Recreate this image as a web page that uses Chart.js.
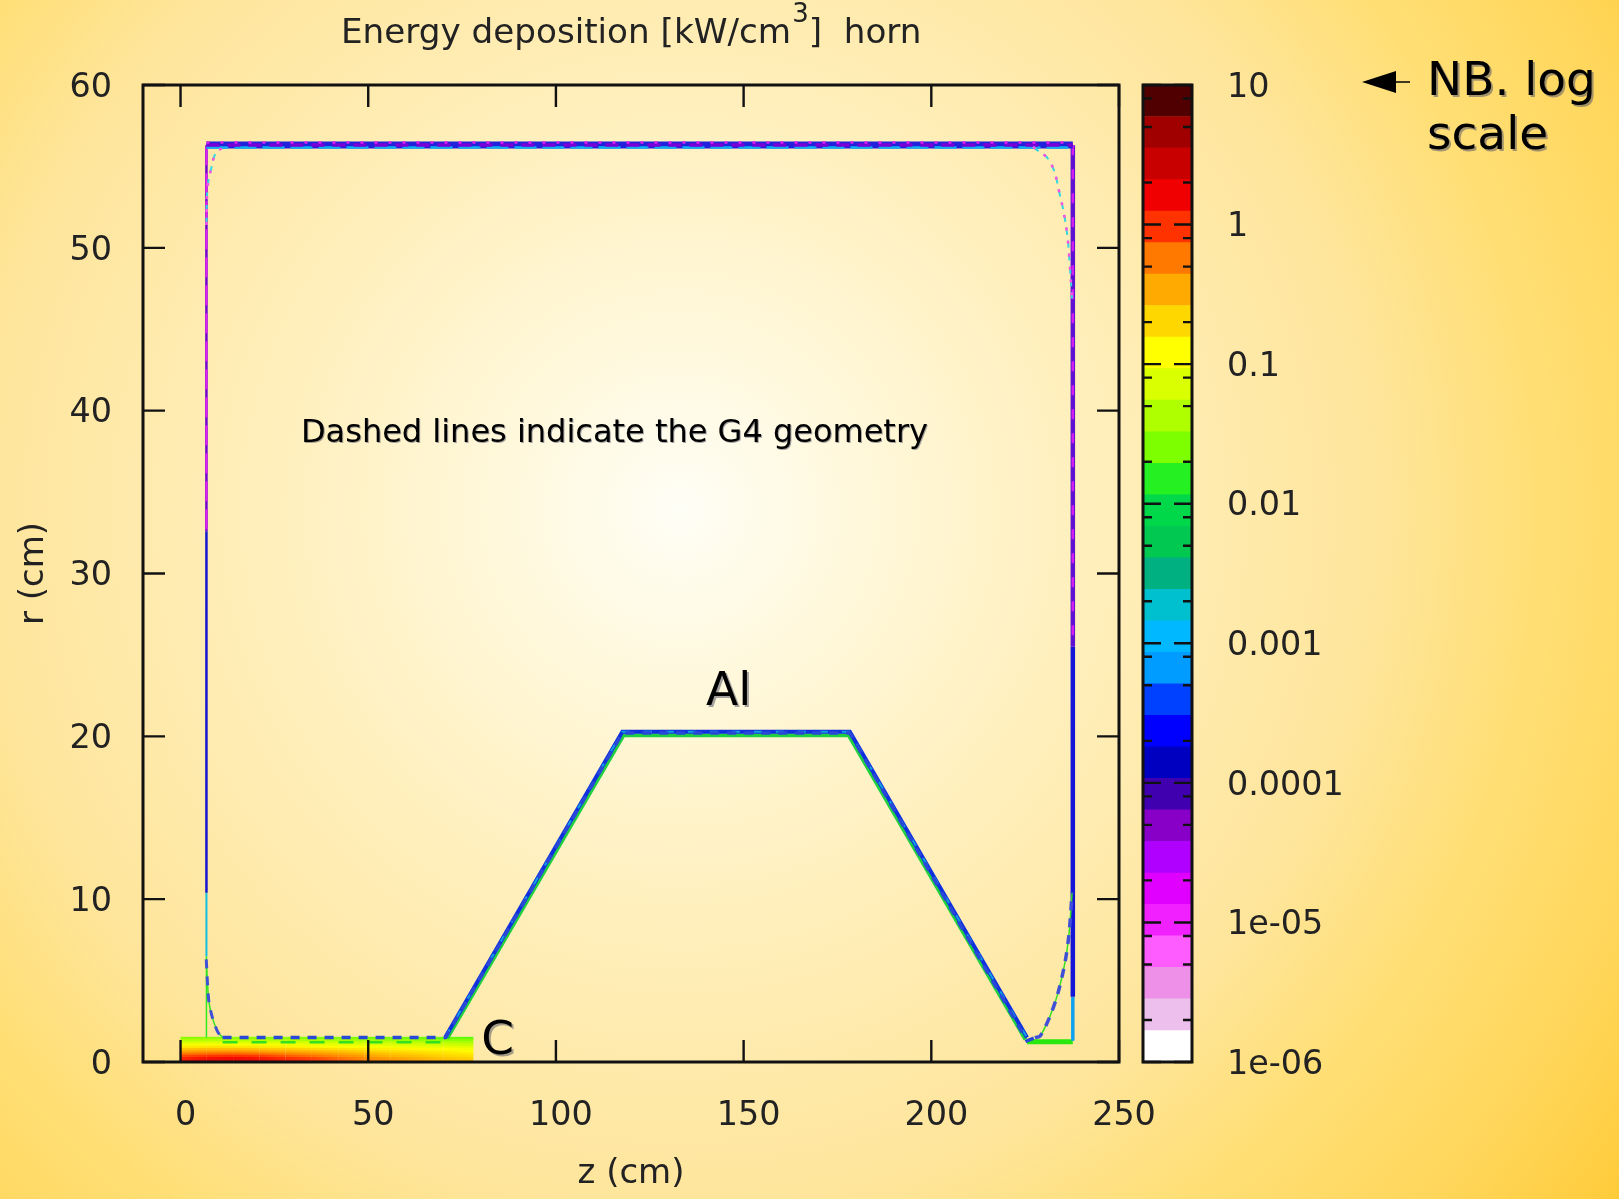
<!DOCTYPE html>
<html>
<head>
<meta charset="utf-8">
<title>Energy deposition horn</title>
<script src="https://cdn.jsdelivr.net/npm/chart.js@4"></script>
<style>
  html, body { margin: 0; padding: 0; width: 1619px; height: 1199px; overflow: hidden; }
  body { background: radial-gradient(circle farthest-corner at 680px 510px, #fffef6 0%, #fff8dc 15%, #fff0bf 33%, #fee59b 60%, #ffdf76 73%, #ffd65a 88%, #ffcb3a 100%); }
  canvas { position: absolute; left: 0; top: 0; filter: blur(0.5px); }
</style>
</head>
<body>
<canvas id="map" width="1619" height="1199"></canvas>
<canvas id="bar" width="1619" height="1199"></canvas>
<script>
// Axis ticks
const zTicks = [0, 50, 100, 150, 200, 250];
const rTicks = [0, 10, 20, 30, 40, 50, 60];
const barMajorTicks = [10, 1, 0.1, 0.01, 0.001, 0.0001, 0.00001, 0.000001];
const barMajorLabels = ['10', '1', '0.1', '0.01', '0.001', '0.0001', '1e-05', '1e-06'];
const barMinorTicks = [8, 5, 2, 0.8, 0.5, 0.2, 0.08, 0.05, 0.02, 0.008, 0.005, 0.002, 0.0008, 0.0005, 0.0002,
  0.00008, 0.00005, 0.00002, 0.000008, 0.000005, 0.000002];

// Colour bar, bottom band first
const bandEdges = [1e-6, 1.68e-6, 2.83e-6, 4.76e-6, 8e-6, 1.346e-5, 2.26e-5, 3.81e-5, 6.4e-5, 1.077e-4, 1.81e-4,
  3.05e-4, 5.12e-4, 8.62e-4, 1.45e-3, 2.44e-3, 4.1e-3, 6.9e-3, 1.16e-2, 1.95e-2, 3.28e-2, 5.52e-2, 9.28e-2,
  0.156, 0.263, 0.442, 0.743, 1.25, 2.1, 3.54, 5.95, 10];
const bandColors = ['#ffffff', '#ecbfec', '#ee90e8', '#ff5cff', '#f020ff', '#e000ff', '#b000ff', '#8800c8', '#4000b0',
  '#0000c0', '#0000ff', '#0040ff', '#009cff', '#00b8ff', '#00c0d0', '#00b080', '#00c850', '#00d84a', '#25f021',
  '#7dff00', '#afff00', '#d9ff00', '#ffff00', '#ffd700', '#ffaa00', '#ff7800', '#ff3200', '#f00000', '#c80000',
  '#a00000', '#500000'];

// Carbon target: energy deposition per r row and z column
const targetZ = [0, 7, 14, 21, 28, 35, 42, 49, 56, 63, 70, 78];
const targetR = [0.08, 0.22, 0.36, 0.5, 0.64, 0.78, 0.92, 1.06, 1.2, 1.34, 1.46];
const targetRow0 = [1.3, 1.7, 1.8, 1.6, 1.25, 1.0, 0.75, 0.55, 0.47, 0.36, 0.3, 0.24];
const targetRow1 = [1.1, 1.4, 1.5, 1.3, 1.0, 0.85, 0.62, 0.47, 0.38, 0.32, 0.25, 0.21];
const targetRow2 = [0.8, 0.95, 1.0, 0.9, 0.72, 0.6, 0.47, 0.38, 0.3, 0.26, 0.21, 0.18];
const targetRow3 = [0.55, 0.62, 0.66, 0.6, 0.5, 0.43, 0.35, 0.29, 0.25, 0.21, 0.18, 0.15];
const targetRow4 = [0.36, 0.41, 0.42, 0.38, 0.34, 0.3, 0.26, 0.22, 0.19, 0.17, 0.15, 0.125];
const targetRow5 = [0.24, 0.27, 0.27, 0.25, 0.23, 0.2, 0.18, 0.16, 0.145, 0.13, 0.115, 0.1];
const targetRow6 = [0.15, 0.17, 0.17, 0.16, 0.15, 0.135, 0.125, 0.115, 0.105, 0.095, 0.088, 0.078];
const targetRow7 = [0.1, 0.11, 0.11, 0.105, 0.1, 0.092, 0.086, 0.08, 0.074, 0.068, 0.062, 0.056];
const targetRow8 = [0.065, 0.07, 0.072, 0.068, 0.065, 0.06, 0.058, 0.054, 0.05, 0.047, 0.044, 0.04];
const targetRow9 = [0.042, 0.045, 0.046, 0.044, 0.042, 0.04, 0.038, 0.036, 0.034, 0.032, 0.03, 0.028];
const targetRow10 = [0.028, 0.03, 0.03, 0.029, 0.028, 0.027, 0.026, 0.025, 0.024, 0.023, 0.022, 0.021];
const targetRows = [targetRow0, targetRow1, targetRow2, targetRow3, targetRow4, targetRow5, targetRow6, targetRow7,
  targetRow8, targetRow9, targetRow10];

// Horn outline as scored
const topWallZ = [6.9, 237.7];
const topWallUpperR = [56.47, 56.47];
const topWallMiddleR = [56.32, 56.32];
const topWallLowerR = [56.16, 56.16];
const leftWallZ = [6.9, 6.9];
const leftPurpleR = [56.3, 32.6];
const leftBlueR = [32.6, 10.4];
const leftCyanR = [10.4, 6.5];
const leftGreenR = [6.5, 1.5];
const rightWallZ = [237.7, 237.7];
const rightPurpleR = [56.3, 25.5];
const rightBlueR = [25.5, 4.0];
const rightCyanR = [4.0, 1.3];
const floorZ = [225.5, 237.7];
const floorR = [1.25, 1.25];
const coneBlueZ = [70.6, 117.7, 178.3, 225.5];
const coneBlueR = [1.55, 20.28, 20.28, 1.5];
const coneGreenZ = [71.0, 118.0, 178.0, 225.1];
const coneGreenR = [1.45, 20.06, 20.06, 1.38];

// G4 geometry, dashed
const g4LeftZ = [6.85, 7.5, 8.4, 9.9, 11.2];
const g4LeftR = [6.3, 3.8, 2.8, 1.85, 1.5];
const g4ConeZ = [11.2, 70.6, 117.7, 178.3, 225.5, 227.6];
const g4ConeR = [1.5, 1.5, 20.2, 20.2, 1.3, 1.5];
const g4RightZ = [227.6, 229, 231.6, 233.7, 235.6, 236.7, 237.5];
const g4RightR = [1.5, 1.6, 2.8, 4.2, 6.1, 7.9, 10.4];
const g4InnerZ = [11.2, 70.6];
const g4InnerR = [1.22, 1.22];
const g4TopLeftZ = [6.9, 7.2, 8.2, 9.5, 11];
const g4TopLeftR = [51.4, 53.7, 54.9, 55.9, 56.1];
const g4TopRightZ = [227.1, 231.6, 234.3, 236.1, 236.9, 237.5];
const g4TopRightR = [56.2, 55.3, 53.2, 51.0, 48.9, 46.9];

const LABEL_FONT = "'DejaVu Sans', sans-serif";
const INK = '#111111';
const TEXT = '#222222';

function toPoints(zs, rs) {
  return zs.map((z, i) => ({ x: z, y: rs[i] }));
}

function outline(zs, rs, color, width, dash, tension) {
  return {
    type: 'line', data: toPoints(zs, rs), borderColor: color, borderWidth: width,
    borderDash: dash || [], pointRadius: 0, tension: tension || 0, fill: false, borderCapStyle: 'butt',
  };
}

function hexToRgb(hex) {
  return [1, 3, 5].map(i => parseInt(hex.slice(i, i + 2), 16));
}

// Energy value to colour, blended between neighbouring bands since the target looks smooth
function bandColor(value) {
  const pos = (Math.log10(value) + 6) / 7 * bandColors.length - 0.5;
  const i = Math.max(0, Math.min(bandColors.length - 2, Math.floor(pos)));
  const t = Math.max(0, Math.min(1, pos - i));
  const a = hexToRgb(bandColors[i]), b = hexToRgb(bandColors[i + 1]);
  return `rgb(${a.map((c, k) => Math.round(c + (b[k] - c) * t)).join(',')})`;
}

function targetRowDataset(row, r) {
  return {
    type: 'line', data: targetZ.map(z => ({ x: z, y: r })), borderWidth: 2.8, pointRadius: 0,
    tension: 0, fill: false, borderCapStyle: 'butt', borderColor: bandColor(row[0]),
    segment: {
      borderColor: ctx => {
        const g = ctx.chart.ctx.createLinearGradient(ctx.p0.x, 0, ctx.p1.x, 0);
        g.addColorStop(0, bandColor(row[ctx.p0DataIndex]));
        g.addColorStop(1, bandColor(row[ctx.p1DataIndex]));
        return g;
      },
    },
  };
}

// Inward ticks and the closed frame, as gnuplot draws them
function framePlugin(id, xTickValues, yTickValues, yLengthFor, xLength) {
  return {
    id,
    afterDatasetsDraw(chart) {
      const { ctx, chartArea: a, scales } = chart;
      ctx.save();
      ctx.strokeStyle = INK;
      ctx.lineWidth = 2.4;
      ctx.beginPath();
      xTickValues.forEach(v => {
        const px = scales.x.getPixelForValue(v);
        ctx.moveTo(px, a.top); ctx.lineTo(px, a.top + xLength);
        ctx.moveTo(px, a.bottom); ctx.lineTo(px, a.bottom - xLength);
      });
      yTickValues.forEach(v => {
        const py = scales.y.getPixelForValue(v);
        const len = yLengthFor(v);
        ctx.moveTo(a.left, py); ctx.lineTo(a.left + len, py);
        ctx.moveTo(a.right, py); ctx.lineTo(a.right - len, py);
      });
      ctx.stroke();
      ctx.lineWidth = 3;
      ctx.strokeRect(a.left, a.top, a.right - a.left, a.bottom - a.top);
      ctx.restore();
    },
  };
}

// Title with its raised exponent, the notes inside the plot and the arrow
const notesPlugin = {
  id: 'notes',
  afterDraw(chart) {
    const { ctx, scales } = chart;
    ctx.save();
    ctx.textBaseline = 'alphabetic';
    ctx.fillStyle = TEXT;
    ctx.font = '34.2px ' + LABEL_FONT;
    let x = 341;
    ctx.fillText('Energy deposition [kW/cm', x, 43);
    x += ctx.measureText('Energy deposition [kW/cm').width;
    ctx.font = '26px ' + LABEL_FONT;
    ctx.fillText('3', x + 1, 22);
    x += ctx.measureText('3').width + 1;
    ctx.font = '34.2px ' + LABEL_FONT;
    ctx.fillText(']  horn', x, 43);

    ctx.shadowColor = 'rgba(90,90,110,0.55)';
    ctx.shadowOffsetX = 2;
    ctx.shadowOffsetY = 2;
    ctx.fillStyle = '#000000';
    ctx.textBaseline = 'middle';
    ctx.textAlign = 'center';
    ctx.font = '47px ' + LABEL_FONT;
    ctx.fillText('Al', scales.x.getPixelForValue(146), scales.y.getPixelForValue(22.7));
    ctx.fillText('C', scales.x.getPixelForValue(84.5), scales.y.getPixelForValue(1.25));
    ctx.textAlign = 'left';
    ctx.fillText('NB. log', 1427, 83);
    ctx.fillText('scale', 1427, 137);
    ctx.shadowOffsetX = 1;
    ctx.shadowOffsetY = 1;
    ctx.textAlign = 'center';
    ctx.font = '32px ' + LABEL_FONT;
    ctx.fillText('Dashed lines indicate the G4 geometry', scales.x.getPixelForValue(115.6), scales.y.getPixelForValue(38.6));
    ctx.shadowColor = 'transparent';

    ctx.beginPath();
    ctx.moveTo(1362, 82); ctx.lineTo(1396, 71); ctx.lineTo(1396, 93); ctx.closePath();
    ctx.fill();
    ctx.lineWidth = 1.5;
    ctx.strokeStyle = '#000000';
    ctx.beginPath();
    ctx.moveTo(1390, 82); ctx.lineTo(1410, 82);
    ctx.stroke();
    ctx.restore();
  },
};

// First dataset ends up on top
const mapDatasets = [
  outline(g4LeftZ, g4LeftR, '#3f4fd8', 3, [9, 8], 0.3),
  outline(g4ConeZ, g4ConeR, '#2a48d8', 3.5, [9, 8]),
  outline(g4RightZ, g4RightR, '#3f4fd8', 3.5, [9, 8], 0.3),
  outline(g4InnerZ, g4InnerR, '#35e020', 2.5, [15, 14]),
  outline(g4LeftZ, g4LeftR, '#35e020', 1.5, [], 0.3),
  outline(g4RightZ, g4RightR, '#35e020', 1.5, [], 0.3),
  outline(g4TopLeftZ, g4TopLeftR, '#ff50e0', 2.5, [3, 10], 0.4),
  outline(g4TopLeftZ, g4TopLeftR, '#30d8e0', 2, [7, 6], 0.4),
  outline(g4TopRightZ, g4TopRightR, '#ff50e0', 2.5, [3, 10], 0.4),
  outline(g4TopRightZ, g4TopRightR, '#30d8e0', 2, [7, 6], 0.4),
  outline(topWallZ, topWallUpperR, '#e020f0', 2.5, [3, 11]),
  outline(topWallZ, topWallMiddleR, '#7a00d8', 3.5, [13, 8]),
  outline(topWallZ, topWallLowerR, '#10b0f0', 2.5, [22, 6]),
  outline(topWallZ, topWallMiddleR, '#2222dd', 7),
  outline(leftWallZ, leftPurpleR, '#e020f0', 2, [20, 8]),
  outline(leftWallZ, leftPurpleR, '#7000d0', 2.5),
  outline(leftWallZ, leftBlueR, '#1515d0', 2.5),
  outline(leftWallZ, leftCyanR, '#10c0e0', 2),
  outline(leftWallZ, leftGreenR, '#30e820', 1.5),
  outline(rightWallZ, rightPurpleR, '#d020f0', 2.5, [10, 14]),
  outline(rightWallZ, rightPurpleR, '#6010d0', 4.5),
  outline(rightWallZ, rightBlueR, '#1515d8', 4.5),
  outline(rightWallZ, rightCyanR, '#10a0f0', 3.5),
  outline(floorZ, floorR, '#28e810', 5),
  outline(coneBlueZ, coneBlueR, '#10a0e0', 2, [8, 14]),
  outline(coneBlueZ, coneBlueR, '#1030e0', 4),
  outline(coneGreenZ, coneGreenR, '#20d040', 4),
].concat(targetRows.map((row, i) => targetRowDataset(row, targetR[i])));

new Chart(document.getElementById('map'), {
  type: 'scatter',
  data: { datasets: mapDatasets },
  plugins: [framePlugin('mapFrame', zTicks, rTicks, () => 22, 22), notesPlugin],
  options: {
    responsive: false,
    animation: false,
    layout: { padding: { top: 85, right: 500, left: 0, bottom: 0 } },
    plugins: { legend: { display: false }, tooltip: { enabled: false }, title: { display: false } },
    scales: {
      x: {
        type: 'linear', min: -10, max: 250,
        afterBuildTicks: s => { s.ticks = zTicks.map(value => ({ value })); },
        afterFit: s => { s.height = 137; },
        grid: { display: false, drawTicks: false },
        border: { display: false },
        ticks: { color: TEXT, font: { family: LABEL_FONT, size: 33.4 }, padding: 34, labelOffset: 5, maxRotation: 0, autoSkip: false },
        title: { display: true, text: 'z (cm)', color: TEXT, font: { family: LABEL_FONT, size: 34 }, padding: { top: 0, bottom: 4 } },
      },
      y: {
        type: 'linear', min: 0, max: 60,
        afterBuildTicks: s => { s.ticks = rTicks.map(value => ({ value })); },
        afterFit: s => { s.width = 143; },
        grid: { display: false, drawTicks: false },
        border: { display: false },
        ticks: { color: TEXT, font: { family: LABEL_FONT, size: 33.4 }, padding: 31, labelOffset: 3, autoSkip: false },
        title: { display: true, text: 'r (cm)', color: TEXT, font: { family: LABEL_FONT, size: 34 }, padding: { top: 14, bottom: 0 } },
      },
    },
  },
});

// Colour bar: one floating bar per band on the log axis
new Chart(document.getElementById('bar'), {
  type: 'bar',
  data: {
    labels: [''],
    datasets: bandColors.map((color, i) => ({
      data: [[bandEdges[i], bandEdges[i + 1]]],
      backgroundColor: color,
      borderWidth: 0,
      barPercentage: 1,
      categoryPercentage: 1,
      grouped: false,
    })),
  },
  plugins: [framePlugin('barFrame', [], barMajorTicks.concat(barMinorTicks), v => (barMajorTicks.includes(v) ? 18 : 9), 0)],
  options: {
    responsive: false,
    animation: false,
    layout: { padding: { top: 85, left: 1143, right: 0, bottom: 137 } },
    plugins: { legend: { display: false }, tooltip: { enabled: false } },
    scales: {
      x: { display: false },
      y: {
        type: 'logarithmic', position: 'right', min: 1e-6, max: 10,
        afterBuildTicks: s => { s.ticks = barMajorTicks.concat(barMinorTicks).map(value => ({ value })); },
        afterFit: s => { s.width = 427; },
        grid: { display: false, drawTicks: false },
        border: { display: false },
        ticks: {
          color: TEXT, font: { family: LABEL_FONT, size: 33.4 }, padding: 35, labelOffset: 3, autoSkip: false,
          callback: value => {
            const i = barMajorTicks.indexOf(value);
            return i >= 0 ? barMajorLabels[i] : '';
          },
        },
      },
    },
  },
});
</script>
</body>
</html>
